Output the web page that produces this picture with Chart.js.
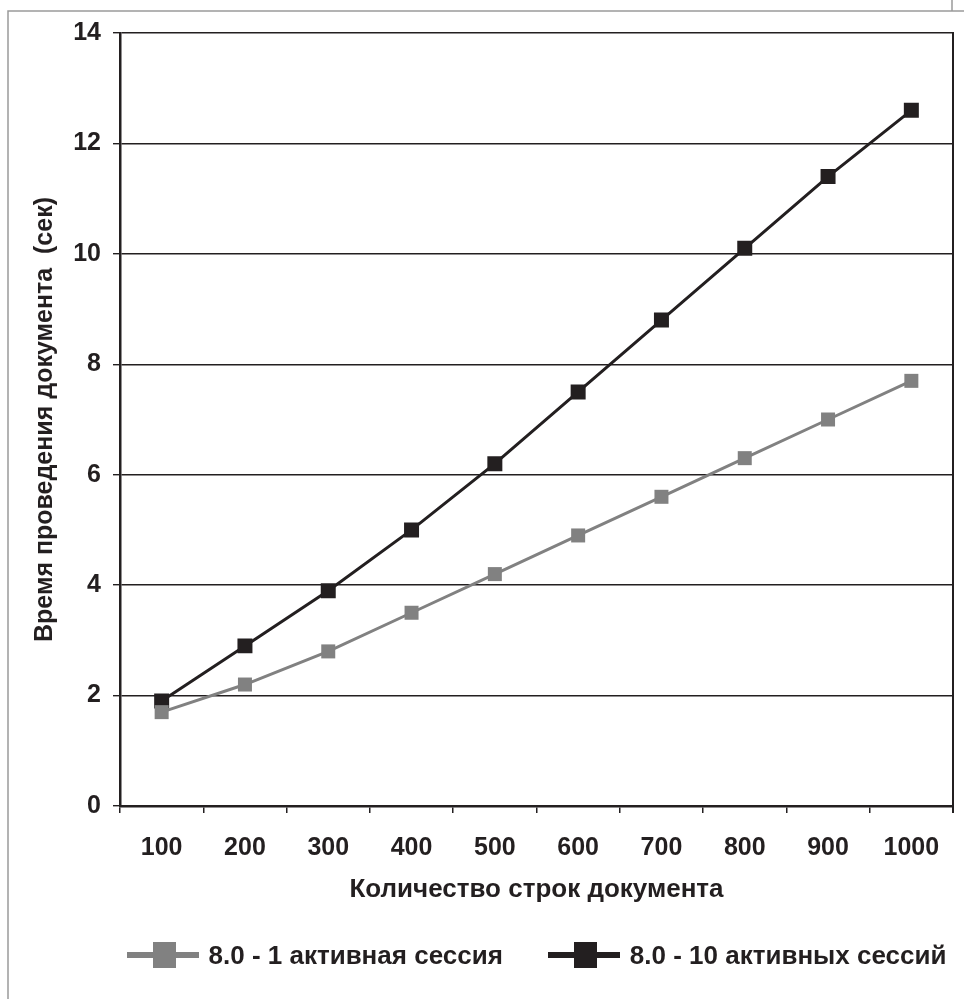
<!DOCTYPE html>
<html>
<head>
<meta charset="utf-8">
<script src="https://cdn.jsdelivr.net/npm/chart.js@4.4.1/dist/chart.umd.min.js"></script>
<style>
  html, body { margin: 0; padding: 0; background: #fff; }
  #wrap { position: relative; width: 964px; height: 999px; }
  #legend {
    position: absolute; top: 941px; height: 28px;
    display: flex; justify-content: center; align-items: center; gap: 45px;
    font-family: 'Liberation Sans', Arial, sans-serif; font-weight: bold; font-size: 26px;
    color: #231f20; white-space: nowrap;
  }
  .item { display: flex; align-items: center; }
  .sw { position: relative; width: 72px; height: 26px; margin-right: 10px; }
  .sw .ln { position: absolute; left: 0; top: 10px; width: 72px; height: 6px; }
  .sw .sq { position: absolute; left: 26px; top: 0; width: 23px; height: 26px; }
</style>
</head>
<body>
<div id="wrap">
  <canvas id="c" width="964" height="999"></canvas>
  <div id="legend"></div>
</div>
<script>
// Document line counts (x categories)
const categories = ['100', '200', '300', '400', '500', '600', '700', '800', '900', '1000'];
// Posting time, seconds
const oneSession = [1.7, 2.2, 2.8, 3.5, 4.2, 4.9, 5.6, 6.3, 7.0, 7.7];
const tenSessions = [1.9, 2.9, 3.9, 5.0, 6.2, 7.5, 8.8, 10.1, 11.4, 12.6];
const seriesNames = ['8.0 - 1 активная сессия', '8.0 - 10 активных сессий'];
const yTickValues = [0, 2, 4, 6, 8, 10, 12, 14];

const INK = '#231f20';
const GREY = '#818181';
const FONT = "'Liberation Sans', Arial, sans-serif";

// Page frame and right edge of the plot box
const framePlugin = {
  id: 'frame',
  afterDraw(chart) {
    const ctx = chart.ctx;
    const a = chart.chartArea;
    ctx.save();
    ctx.strokeStyle = '#9a9a9a';
    ctx.lineWidth = 1.5;
    ctx.beginPath();
    ctx.moveTo(8, 999); ctx.lineTo(8, 11); ctx.lineTo(964, 11);
    ctx.moveTo(952, 0); ctx.lineTo(952, 11);
    ctx.stroke();
    ctx.strokeStyle = INK;
    ctx.lineWidth = 2;
    ctx.beginPath();
    ctx.moveTo(a.right, a.top - 1); ctx.lineTo(a.right, a.bottom + 7);
    ctx.stroke();
    ctx.restore();
  }
};

const chart = new Chart(document.getElementById('c'), {
  type: 'line',
  data: {
    labels: categories,
    datasets: [
      {
        label: seriesNames[0],
        data: oneSession,
        borderColor: GREY,
        backgroundColor: GREY,
        borderWidth: 3,
        pointStyle: 'rect',
        pointRadius: 9.9,
        pointBorderWidth: 0,
        pointBackgroundColor: GREY,
        tension: 0
      },
      {
        label: seriesNames[1],
        data: tenSessions,
        borderColor: INK,
        backgroundColor: INK,
        borderWidth: 3,
        pointStyle: 'rect',
        pointRadius: 10.6,
        pointBorderWidth: 0,
        pointBackgroundColor: INK,
        tension: 0
      }
    ]
  },
  options: {
    responsive: false,
    animation: false,
    devicePixelRatio: 1,
    layout: { padding: { top: 33, right: 11, left: 0, bottom: 83 } },
    plugins: {
      tooltip: { enabled: false },
      legend: { display: false }
    },
    scales: {
      x: {
        offset: true,
        afterFit(scale) { scale.height = 110; },
        grid: {
          offset: true,
          drawOnChartArea: false,
          drawTicks: true,
          tickLength: 7,
          color: INK,
          lineWidth: 1.5
        },
        border: { display: true, color: INK, width: 2.5 },
        ticks: {
          color: INK,
          padding: 20,
          maxRotation: 0,
          font: { family: FONT, size: 25, weight: 'bold' }
        },
        title: {
          display: true,
          text: 'Количество строк документа',
          color: INK,
          padding: { top: 0, bottom: 11 },
          font: { family: FONT, size: 26, weight: 'bold' }
        }
      },
      y: {
        min: 0,
        max: 14,
        afterFit(scale) { scale.width = 120; },
        afterBuildTicks(scale) { scale.ticks = yTickValues.map(v => ({ value: v })); },
        grid: {
          color: INK,
          lineWidth: 1.4,
          tickLength: 7
        },
        border: { display: true, color: INK, width: 2.5 },
        ticks: {
          color: INK,
          padding: 12,
          font: { family: FONT, size: 25, weight: 'bold' }
        },
        title: {
          display: true,
          text: 'Время проведения документа  (сек)',
          color: INK,
          padding: { top: 30, bottom: 0 },
          font: { family: FONT, size: 25, weight: 'bold' }
        }
      }
    }
  },
  plugins: [framePlugin]
});

// HTML legend built from the chart's datasets, centred under the plot area
(function buildLegend() {
  const box = document.getElementById('legend');
  const area = chart.chartArea;
  box.style.left = area.left + 'px';
  box.style.width = (area.right - area.left) + 'px';
  chart.data.datasets.forEach(ds => {
    const item = document.createElement('div');
    item.className = 'item';
    const sw = document.createElement('div');
    sw.className = 'sw';
    const ln = document.createElement('div');
    ln.className = 'ln';
    ln.style.background = ds.borderColor;
    const sq = document.createElement('div');
    sq.className = 'sq';
    sq.style.background = ds.pointBackgroundColor;
    sw.appendChild(ln); sw.appendChild(sq);
    const tx = document.createElement('span');
    tx.textContent = ds.label;
    item.appendChild(sw); item.appendChild(tx);
    box.appendChild(item);
  });
})();
</script>
</body>
</html>
